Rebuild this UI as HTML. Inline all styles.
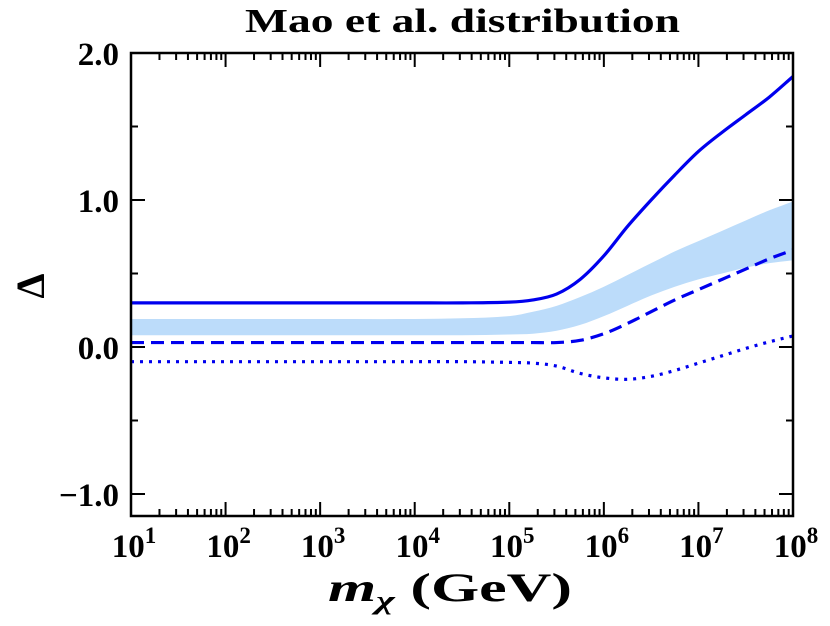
<!DOCTYPE html>
<html><head><meta charset="utf-8"><style>
body{margin:0;background:#fff}
text{font-family:"Liberation Serif","DejaVu Serif",serif;font-weight:bold;fill:#000}
</style></head><body>
<svg id="chart" width="830" height="621" xmlns="http://www.w3.org/2000/svg">
<text x="245" y="32" font-size="34" textLength="435" lengthAdjust="spacingAndGlyphs">Mao et al. distribution</text>
<g id="marks"></g>
<g id="axes"></g>
<text x="328" y="601" font-size="40" textLength="244" lengthAdjust="spacingAndGlyphs"><tspan font-style="italic">m</tspan><tspan font-style="italic" font-size="26" dy="8">χ</tspan><tspan dy="-8"> (GeV)</tspan></text>
<text x="30" y="286" font-size="40" text-anchor="middle" transform="rotate(-90 30 286)" dy="14">Δ</text>
</svg>
<script>
const xLogs=[1,2,3,4,4.5,5,5.25,5.5,5.75,6,6.25,6.5,6.75,7,7.25,7.5,7.75,8];
const solid=[0.30,0.30,0.30,0.30,0.30,0.305,0.32,0.36,0.46,0.62,0.82,1.0,1.17,1.33,1.46,1.58,1.70,1.84];
const bandUpper=[0.19,0.19,0.19,0.19,0.195,0.21,0.24,0.28,0.34,0.41,0.49,0.57,0.65,0.72,0.79,0.86,0.93,0.99];
const bandLower=[0.08,0.08,0.08,0.08,0.08,0.085,0.09,0.11,0.15,0.21,0.28,0.35,0.41,0.46,0.50,0.54,0.57,0.59];
const dashed=[0.03,0.03,0.03,0.03,0.03,0.03,0.03,0.03,0.045,0.09,0.16,0.24,0.32,0.39,0.46,0.53,0.60,0.66];
const dotted=[-0.10,-0.10,-0.10,-0.10,-0.10,-0.105,-0.11,-0.13,-0.18,-0.21,-0.22,-0.20,-0.16,-0.11,-0.06,-0.01,0.035,0.075];
const yTicks=[2.0,1.0,0.0,-1.0];
const yTickLabels=["2.0","1.0","0.0","\u22121.0"];
const xTickDecades=[1,2,3,4,5,6,7,8];

const X0=131,X1=793,Y0=53,Y1=516,ymin=-1.15,ymax=2.0;
const sx=v=>X0+(v-1)/7*(X1-X0);
const sy=v=>Y0+(ymax-v)/(ymax-ymin)*(Y1-Y0);
const NS="http://www.w3.org/2000/svg";
function mk(tag,attrs,parent){const e=document.createElementNS(NS,tag);for(const k in attrs)e.setAttribute(k,attrs[k]);parent.appendChild(e);return e;}
function pts(ys){return xLogs.map((x,i)=>[sx(x),sy(ys[i])]);}
function spline(p,move=true){let d=move?`M${p[0][0]},${p[0][1]}`:`L${p[0][0]},${p[0][1]}`;
 for(let i=0;i<p.length-1;i++){const a=p[Math.max(i-1,0)],b=p[i],c=p[i+1],e=p[Math.min(i+2,p.length-1)];
 const h=c[0]-b[0];
 const m1=(c[1]-a[1])/(c[0]-a[0]||1),m2=(e[1]-b[1])/(e[0]-b[0]||1);
 const c1=[b[0]+h/3,b[1]+m1*h/3],c2=[c[0]-h/3,c[1]-m2*h/3];
 d+=`C${c1[0]},${c1[1]} ${c2[0]},${c2[1]} ${c[0]},${c[1]}`;}return d;}
const marks=document.getElementById('marks');
const band=mk('path',{d:spline(pts(bandUpper))+spline(pts(bandLower).reverse(),false)+'Z',fill:'#bcdcfa'},marks);


const s=mk('path',{d:spline(pts(solid)),fill:'none',stroke:'#0000ee','stroke-width':3.2},marks);


const da=mk('path',{d:spline(pts(dashed)),fill:'none',stroke:'#0000ee','stroke-width':3.2,'stroke-dasharray':'13 7'},marks);


const dt=mk('path',{d:spline(pts(dotted)),fill:'none',stroke:'#0000ee','stroke-width':3.2,'stroke-dasharray':'3 6'},marks);



const ax=document.getElementById('axes');
const fr=mk('rect',{x:X0,y:Y0,width:X1-X0,height:Y1-Y0,fill:'none',stroke:'#000','stroke-width':2.5},ax);


let tk='';
xTickDecades.forEach(d=>{const x=sx(d);tk+=`M${x},${Y1}v-14M${x},${Y0}v14`;
 if(d<8)for(let m=2;m<10;m++){const xm=sx(d+Math.log10(m));tk+=`M${xm},${Y1}v-7M${xm},${Y0}v7`;}});
for(let v=-1;v<=2;v+=0.5){const y=sy(v);const L=(Math.abs(v%1)<1e-9)?14:7;tk+=`M${X0},${y}h${L}M${X1},${y}h-${L}`;}
const tp=mk('path',{d:tk,stroke:'#000','stroke-width':2,fill:'none'},ax);


yTicks.forEach((v,i)=>{const t=mk('text',{x:X0-12,y:sy(v)+12,'font-size':33,'text-anchor':'end'},ax);t.textContent=yTickLabels[i];
 
 });
xTickDecades.forEach(d=>{const t=mk('text',{x:sx(d)+3,y:557,'font-size':33,'text-anchor':'middle'},ax);
 
 
 const a=document.createElementNS(NS,'tspan');a.textContent='10';t.appendChild(a);
 const b=document.createElementNS(NS,'tspan');b.setAttribute('font-size','23');b.setAttribute('dy','-14');b.textContent=d;t.appendChild(b);});
</script>
</body></html>
